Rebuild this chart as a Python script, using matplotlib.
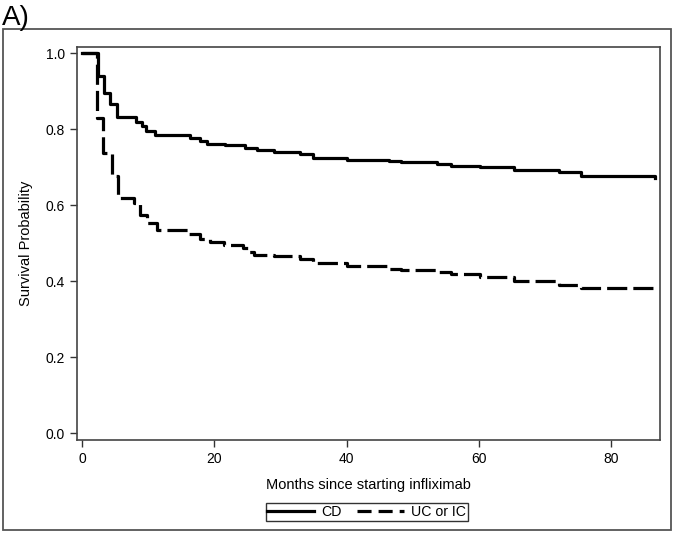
import matplotlib
matplotlib.use("Agg")
import matplotlib.pyplot as plt
from matplotlib.lines import Line2D
from matplotlib.patches import Rectangle

plt.rcParams['font.family'] = ['Liberation Sans', 'DejaVu Sans']

# Kaplan-Meier step data (months, survival)
cd_months = [0, 2.47, 3.33, 4.24, 5.35, 8.18, 9.04, 9.65, 11.06, 16.36, 17.9,
             18.9, 21.7, 24.7, 26.5, 29.0, 33.0, 35.0, 40.1, 46.4, 48.2, 53.7,
             55.8, 60.2, 65.3, 72.2, 75.5, 86.7]
cd_surv = [1.0, 0.939, 0.896, 0.866, 0.832, 0.819, 0.808, 0.795, 0.785, 0.777,
           0.769, 0.762, 0.758, 0.750, 0.745, 0.740, 0.734, 0.725, 0.720, 0.717,
           0.713, 0.709, 0.704, 0.699, 0.692, 0.686, 0.677, 0.671]

uc_months = [0, 2.22, 3.13, 4.5, 5.5, 7.8, 8.8, 9.8, 11.3, 16.1, 17.9, 19.4,
             21.4, 24.4, 25.2, 26.0, 29.0, 33.0, 35.0, 40.1, 46.4, 48.2, 53.7,
             55.8, 60.2, 65.3, 72.2, 75.5, 86.7]
uc_surv = [1.0, 0.829, 0.738, 0.677, 0.619, 0.605, 0.574, 0.552, 0.534, 0.525,
           0.512, 0.502, 0.495, 0.486, 0.477, 0.470, 0.466, 0.457, 0.447, 0.440,
           0.433, 0.429, 0.425, 0.418, 0.411, 0.400, 0.391, 0.381, 0.372]

x_ticks = [0, 20, 40, 60, 80]
y_ticks = [0.0, 0.2, 0.4, 0.6, 0.8, 1.0]

fig = plt.figure(figsize=(6.75, 5.34), dpi=100)

# outer panel frame
fig.patches.append(Rectangle((0.0044, 0.0075), 0.9897, 0.9382,
                             transform=fig.transFigure, fill=False,
                             edgecolor='#555555', linewidth=1.3))
fig.text(0.003, 0.953, 'A)', fontsize=20, ha='left', va='baseline')

ax = fig.add_axes([0.1136, 0.176, 0.8642, 0.736])
ax.step(cd_months, cd_surv, where='post', color='black', linewidth=2.3)
ax.step(uc_months, uc_surv, where='post', color='black', linewidth=2.3,
        linestyle=(0, (6.3, 1.9)))

ax.set_xlim(-0.8, 87.4)
ax.set_ylim(-0.018, 1.016)
ax.set_xticks(x_ticks)
ax.set_yticks(y_ticks)
ax.set_yticklabels([f'{v:.1f}' for v in y_ticks])
ax.tick_params(direction='out', length=5, width=1, labelsize=10,
               color='#333333', pad=3.5)
for s in ax.spines.values():
    s.set_color('#444444')
    s.set_linewidth(1.2)

ax.set_xlabel('Months since starting infliximab', fontsize=10.5, labelpad=9)
ax.set_ylabel('Survival Probability', fontsize=10.5, labelpad=9)

handles = [Line2D([], [], color='black', linewidth=2.3),
           Line2D([], [], color='black', linewidth=2.3,
                  linestyle=(0, (4.4, 2.2)))]
leg = fig.legend(handles, ['CD', 'UC or IC'], loc='center',
                 bbox_to_anchor=(0.543, 0.041), ncol=2, fontsize=10.2,
                 frameon=True, fancybox=False, handlelength=3.3,
                 borderpad=0.12, columnspacing=1.1, handletextpad=0.5,
                 borderaxespad=0)
leg.get_frame().set_edgecolor('black')
leg.get_frame().set_linewidth(1.0)

fig.savefig('out.png', dpi=100)
